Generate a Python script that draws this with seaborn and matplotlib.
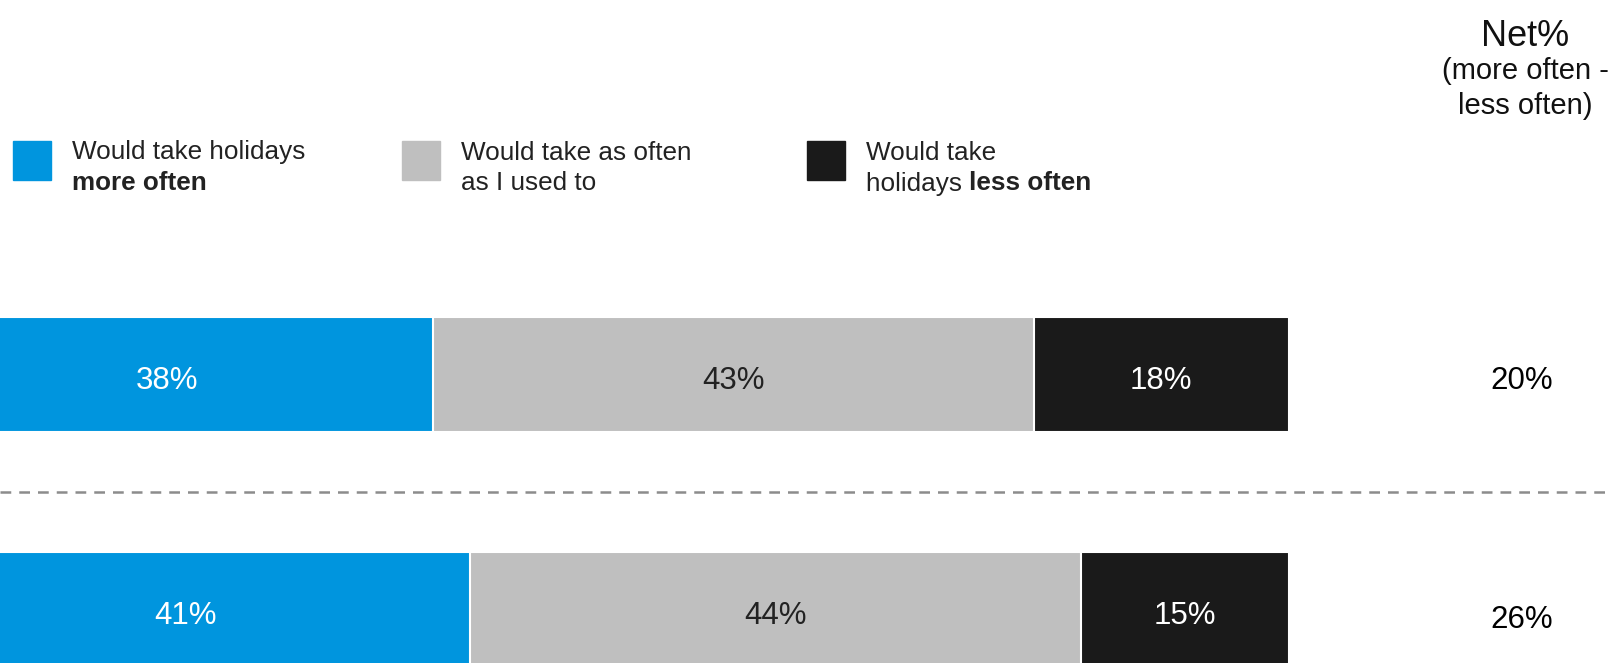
import matplotlib
matplotlib.use("Agg")
import matplotlib.pyplot as plt
import matplotlib.transforms as mtransforms
import seaborn as sns
import pandas as pd

# Survey shares (percent of respondents)
groups = ["Survey 1", "Survey 2"]
more_often = [38.3, 41.0]
as_often = [43.3, 44.0]
less_often = [18.4, 15.0]

segment_names = ["Would take holidays more often",
                 "Would take as often as I used to",
                 "Would take holidays less often"]
colors = ["#0095DE", "#BFBFBF", "#1A1A1A"]
label_colors = ["white", "#222222", "white"]

sns.set_theme(style="white")
plt.rcParams["font.family"] = ["Liberation Sans", "DejaVu Sans"]

df = pd.DataFrame({
    "group": groups,
    "more": more_often,
    "same": as_often,
    "less": less_often,
})
df["cum_more"] = df["more"]
df["cum_same"] = df["more"] + df["same"]
df["cum_less"] = df["cum_same"] + df["less"]

W, H = 1612, 663
fig = plt.figure(figsize=(W / 100, H / 100), dpi=100)
ax = fig.add_axes([0, 0, 1, 1])

# Stacked bars: draw cumulative totals from largest to smallest
for col, color in zip(["cum_less", "cum_same", "cum_more"], colors[::-1]):
    sns.barplot(data=df, x=col, y="group", orient="h", color=color,
                saturation=1, width=0.49, edgecolor="white", linewidth=1.5,
                ax=ax)

# Text sits a few pixels below the bar centre line
down = mtransforms.offset_copy(ax.transData, fig=fig, x=0, y=-4.5, units="points")

# Segment value labels
for i, row in df.iterrows():
    starts = [0, row["cum_more"], row["cum_same"]]
    widths = [row["more"], row["same"], row["less"]]
    for s, w, tc in zip(starts, widths, label_colors):
        ax.text(s + w / 2, i, f"{round(w):.0f}%", ha="center", va="center",
                color=tc, fontsize=22.5, transform=down)

# Net% column (more often - less often)
net_tr = mtransforms.blended_transform_factory(fig.transFigure, ax.transData)
net_tr = mtransforms.offset_copy(net_tr, fig=fig, x=0, y=-4.5, units="points")
for i, row in df.iterrows():
    net = round(row["more"] - row["less"])
    ax.text(1522 / W, i + (0.0 if i == 0 else 0.02), f"{net:.0f}%",
            transform=net_tr, ha="center", va="center", color="black",
            fontsize=22.5)

# Separator between the two groups
ax.axhline(0.5, color="#8c8c8c", lw=1.8, ls=(0, (4.3, 3.2)))

ax.set_xlim(7.13, 123.27)
ax.set_ylim(1.228, -1.594)
ax.set_axis_off()

# Net% header
fig.text(1525 / W, 1 - 37 / H, "Net%", ha="center", va="center",
         fontsize=26, color="#111111")
fig.text(1525 / W, 1 - 71 / H, "(more often -", ha="center", va="center",
         fontsize=21, color="#111111")
fig.text(1525 / W, 1 - 106 / H, "less often)", ha="center", va="center",
         fontsize=21, color="#111111")

# Legend
renderer = fig.canvas.get_renderer()
legend_items = [
    (13, [("Would take holidays", "normal")], [("more often", "bold")]),
    (402, [("Would take as often", "normal")], [("as I used to", "normal")]),
    (807, [("Would take", "normal")], [("holidays ", "normal"), ("less often", "bold")]),
]
for (x0, line1, line2), color in zip(legend_items, colors):
    ax.add_patch(plt.Rectangle((x0 / W, 1 - 180 / H), 38 / W, 39 / H,
                               transform=fig.transFigure, color=color,
                               clip_on=False))
    for parts, yc in ((line1, 152.5), (line2, 183.5)):
        xpos = x0 + 59
        for txt, weight in parts:
            t = fig.text(xpos / W, 1 - yc / H, txt, ha="left", va="center",
                         fontsize=18.8, fontweight=weight, color="#222222")
            bb = t.get_window_extent(renderer=renderer)
            xpos += bb.width

fig.savefig("out.png", dpi=100)
